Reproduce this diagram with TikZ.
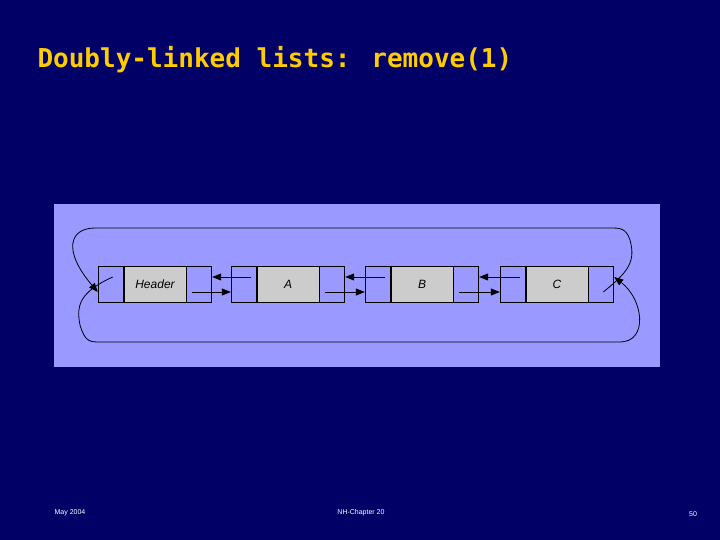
\documentclass[tikz,border=0pt]{standalone}
\usepackage{fontspec}
\setsansfont{Liberation Sans}
\newfontfamily\titlefont{DejaVu Sans Mono}
\usetikzlibrary{arrows.meta,positioning}
\definecolor{slidebg}{RGB}{0,0,102}
\definecolor{panel}{RGB}{153,153,255}
\definecolor{titleyellow}{RGB}{255,204,0}
\definecolor{cellgrey}{RGB}{204,204,204}

\begin{document}
\begin{tikzpicture}[x=1pt,y=-1pt]

\tikzset{cell/.style={draw=black,thick,minimum height=36pt,inner sep=0pt},
ptrcell/.style={cell,fill=panel,minimum width=25pt},
datacell/.style={cell,fill=cellgrey,minimum width=62pt,font=\sffamily\itshape\large},
link/.style={thick,-{Triangle[length=9pt,width=7pt]}},
foot/.style={text=white,font=\sffamily\scriptsize}}

\fill[slidebg] (0,0) rectangle (720,540);
\useasboundingbox (0,0) rectangle (720,540);
\fill[panel] (54,204) rectangle (660,367);

% Title
\node[anchor=west,text=titleyellow,font=\titlefont\bfseries\fontsize{26}{30}\selectfont] (title) at (34,60) {Doubly-linked lists: remove(1)};

% Nodes of the list
\foreach \n/\t/\x in {h/Header/155,a/A/288,b/B/422,c/C/557}{
  \node[datacell] (\n-d) at (\x,284) {\t};
  \node[ptrcell,left=0pt of \n-d] (\n-l) {};
  \node[ptrcell,right=0pt of \n-d] (\n-r) {};
}

% Next links
\foreach \p/\q in {h/a,a/b,b/c}{
  \draw[link] ([xshift=-7pt,yshift=-8pt]\p-r.center) -- ([yshift=-8pt]\q-l.west);
  \draw[link] ([xshift=7pt,yshift=7pt]\q-l.center) -- ([yshift=7pt]\p-r.east);
}

% Wrap-around links
\draw[link] ([xshift=2pt,yshift=-8pt]c-r.center) .. controls (628,272) and (636,262) .. (630,240)
  .. controls (626,228) and (620,228) .. (610,228) -- (95,228)
  .. controls (70,228) and (62,250) .. ([yshift=-8pt]h-l.west);
\draw[link] ([xshift=2pt,yshift=7pt]h-l.center) .. controls (80,292) and (76,305) .. (80,325)
  .. controls (85,342) and (90,342) .. (100,342) -- (620,342)
  .. controls (648,342) and (644,300) .. ([yshift=7pt]c-r.east);

% Footer
\node[foot] (date) at (70,513) {May 2004};
\node[foot] (chapter) at (361,513) {NH-Chapter 20};
\node[foot] (page) at (693,514) {50};

\end{tikzpicture}
\end{document}
